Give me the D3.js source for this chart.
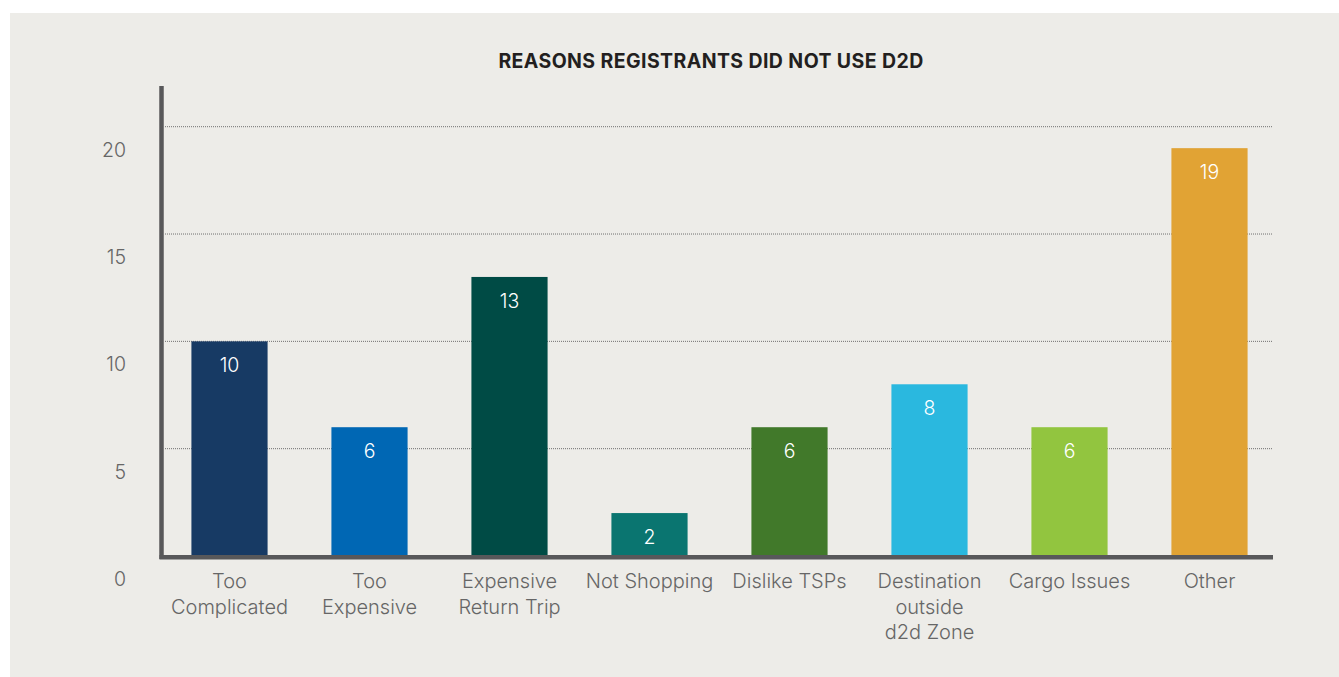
<!DOCTYPE html>
<html>
<head>
<meta charset="utf-8">
<script src="https://cdn.jsdelivr.net/npm/d3@7/dist/d3.min.js"></script>
<style>
  html, body { margin: 0; padding: 0; background: #ffffff; }
  svg { display: block; }
  .lbl { font-family: Inter, "Open Sans", sans-serif; font-weight: 300; }
</style>
</head>
<body>
<svg id="chart" width="1339" height="677"></svg>
<script>
// Survey responses: reasons registrants did not use D2D
const categories = [
  "Too\nComplicated",
  "Too\nExpensive",
  "Expensive\nReturn Trip",
  "Not Shopping",
  "Dislike TSPs",
  "Destination\noutside\nd2d Zone",
  "Cargo Issues",
  "Other"
];
const counts = [10, 6, 13, 2, 6, 8, 6, 19];
const barColors = ["#173a64", "#0067b4", "#004b45", "#0a7570", "#41792a", "#2ab8df", "#92c53f", "#e1a334"];
const yTicks = [0, 5, 10, 15, 20];
const gridValues = [5, 10, 15, 20];
const title = "REASONS REGISTRANTS DID NOT USE D2D";

const svg = d3.select("#chart");

// panel background
svg.append("rect")
  .attr("x", 10).attr("y", 13)
  .attr("width", 1329).attr("height", 664)
  .attr("fill", "#edece8");

const x = d3.scaleBand()
  .domain(categories)
  .range([159.5, 1279.5])
  .paddingInner(0.456)
  .paddingOuter(0.228);

const y = d3.scaleLinear()
  .domain([0, 20])
  .range([556, 126.7]);

// dotted gridlines
svg.append("g")
  .selectAll("line")
  .data(gridValues)
  .join("line")
  .attr("x1", 165).attr("x2", 1273)
  .attr("y1", d => y(d)).attr("y2", d => y(d))
  .attr("stroke", "#6f6f6f")
  .attr("stroke-width", 1)
  .attr("stroke-dasharray", "1,1");

// bars
svg.append("g")
  .selectAll("rect")
  .data(counts)
  .join("rect")
  .attr("x", (d, i) => x(categories[i]))
  .attr("y", d => y(d))
  .attr("width", x.bandwidth())
  .attr("height", d => y(0) - y(d))
  .attr("fill", (d, i) => barColors[i]);

// value labels inside bars
svg.append("g")
  .selectAll("text")
  .data(counts)
  .join("text")
  .attr("class", "lbl")
  .attr("x", (d, i) => x(categories[i]) + x.bandwidth() / 2)
  .attr("y", d => y(d) + 31)
  .attr("text-anchor", "middle")
  .attr("fill", "#ffffff")
  .attr("font-size", 19.5)
  .text(d => d);

// axis lines
svg.append("line")
  .attr("x1", 161.5).attr("x2", 161.5)
  .attr("y1", y(21.9)).attr("y2", 559)
  .attr("stroke", "#58585a").attr("stroke-width", 4.5);
svg.append("line")
  .attr("x1", 159.5).attr("x2", 1273)
  .attr("y1", 557.3).attr("y2", 557.3)
  .attr("stroke", "#58585a").attr("stroke-width", 4.5);

// y tick labels (set below their gridlines)
const yAxis = svg.append("g")
  .attr("transform", "translate(126,0)")
  .call(d3.axisLeft(y).tickValues(yTicks).tickSize(0).tickPadding(0));
yAxis.select(".domain").remove();
yAxis.selectAll("text")
  .attr("class", "lbl")
  .attr("dy", 29.5)
  .attr("fill", "#666666")
  .attr("font-size", 19.5);

// category labels, wrapped onto multiple lines
const xAxis = svg.append("g")
  .attr("transform", "translate(0,556)")
  .call(d3.axisBottom(x).tickSize(0).tickPadding(0));
xAxis.select(".domain").remove();
xAxis.selectAll("text")
  .attr("class", "lbl")
  .attr("fill", "#666666")
  .attr("font-size", 20)
  .attr("y", 32)
  .attr("dy", 0)
  .each(function(d) {
    const t = d3.select(this);
    const lines = d.split("\n");
    t.text(null);
    lines.forEach((ln, k) => {
      t.append("tspan")
        .attr("x", 0)
        .attr("y", 32 + k * 25.5)
        .text(ln);
    });
  });

// title
svg.append("text")
  .attr("x", 711).attr("y", 67.5)
  .attr("text-anchor", "middle")
  .attr("font-family", "Inter, 'Open Sans', sans-serif")
  .attr("font-weight", 700)
  .attr("font-size", 19.5)
  .attr("letter-spacing", 0.4)
  .attr("fill", "#231f20")
  .text(title);
</script>
</body>
</html>
